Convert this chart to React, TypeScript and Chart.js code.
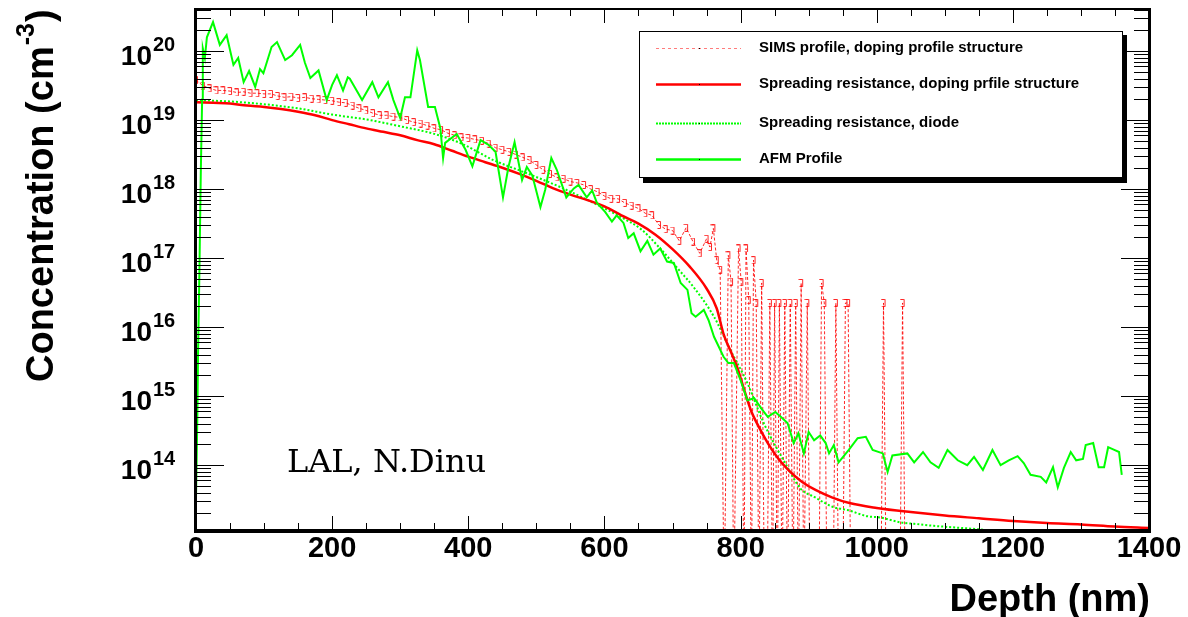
import React, { useEffect, useRef } from "react";
import { Chart, registerables } from "chart.js";
Chart.register(...registerables);

// ---------- axes ----------
const X_MIN = 0;
const X_MAX = 1400;
const Y_MIN_EXP = 13.06; // log10 of axis minimum (cm^-3)
const Y_MAX_EXP = 20.61; // log10 of axis maximum (cm^-3)
const X_TICK_STEP = 200;
const Y_DECADES = [14, 15, 16, 17, 18, 19, 20];

const X_TITLE = "Depth (nm)";
const Y_TITLE = "Concentration (cm";
const Y_TITLE_SUP = "-3";
const Y_TITLE_END = ")";
const NOTE = "LAL, N.Dinu";

const LEGEND_LABELS = [
  "SIMS profile, doping profile structure",
  "Spreading resistance, doping prfile structure",
  "Spreading resistance, diode",
  "AFM Profile",
];

// ---------- data (depth in nm, concentration as log10 cm^-3; 0 = no signal) ----------
const simsDepth = [
  0, 10, 20, 30, 40, 50, 60, 70, 80, 90, 100, 110, 120, 130, 140, 150, 160, 170, 180, 190,
  200, 210, 220, 230, 240, 250, 260, 270, 280, 290, 300, 310, 320, 330, 340, 350, 360, 370, 380, 390,
  400, 410, 420, 430, 440, 450, 460, 470, 480, 490, 500, 510, 520, 530, 540, 550, 560, 570, 580, 590,
  600, 610, 620, 630, 640, 650, 660, 670, 680, 690, 700, 710, 720, 730, 740, 750, 755, 760, 765, 770,
  776, 782, 786, 790, 797, 801, 805, 808, 812, 816, 819, 823, 827, 831, 835, 839, 843, 847, 850, 854,
  857, 861, 865, 869, 873, 877, 881, 885, 889, 893, 898, 902, 915, 919, 923, 927, 936, 940, 944, 950,
  954, 958, 962, 1006, 1010, 1014, 1034, 1038, 1042,
];
const simsLog = [
  19.58, 19.5, 19.46, 19.43, 19.43, 19.42, 19.4, 19.41, 19.39, 19.39, 19.38, 19.38, 19.35, 19.33, 19.34, 19.32, 19.33, 19.31, 19.3, 19.29,
  19.28, 19.26, 19.25, 19.21, 19.17, 19.14, 19.1, 19.07, 19.07, 19.05, 19.04, 19.0, 18.97, 18.95, 18.92, 18.88, 18.86, 18.81, 18.78, 18.75,
  18.74, 18.72, 18.7, 18.66, 18.6, 18.57, 18.54, 18.5, 18.46, 18.42, 18.35, 18.28, 18.22, 18.17, 18.15, 18.11, 18.09, 18.06, 18.0, 17.96,
  17.9, 17.86, 17.86, 17.8, 17.76, 17.72, 17.65, 17.62, 17.48, 17.42, 17.4, 17.25, 17.44, 17.24, 17.07, 17.28, 17.16, 17.43, 16.97, 16.83,
  0, 17.04, 16.66, 0, 17.14, 16.65, 0, 17.14, 16.39, 0, 16.97, 16.35, 0, 16.64, 0, 0, 16.35, 0, 16.35, 0,
  16.35, 0, 16.35, 0, 16.35, 0, 16.35, 0, 16.64, 0, 16.35, 0, 0, 16.64, 16.35, 0, 0, 16.35, 0, 0,
  16.35, 16.35, 0, 0, 16.35, 0, 0, 16.35, 0,
];

const srDepth = [
  0, 25, 50, 75, 100, 125, 150, 175, 200, 225, 250, 275, 300, 325, 350, 375, 400, 425, 450, 475,
  500, 525, 550, 575, 600, 625, 650, 675, 700, 725, 750, 765, 775, 785, 795, 805, 815, 827, 840, 855,
  870, 890, 910, 935, 960, 1000, 1050, 1100, 1150, 1200, 1250, 1300, 1350, 1400,
];
const srLog = [
  19.26, 19.25, 19.24, 19.21, 19.19, 19.16, 19.12, 19.07, 19.0, 18.94, 18.88, 18.83, 18.78, 18.71, 18.65, 18.56, 18.47, 18.39, 18.31, 18.22,
  18.12, 18.01, 17.92, 17.84, 17.75, 17.62, 17.5, 17.34, 17.13, 16.88, 16.56, 16.27, 15.9, 15.66, 15.42, 15.1, 14.8, 14.55, 14.32, 14.1,
  13.93, 13.76, 13.64, 13.53, 13.45, 13.38, 13.32, 13.27, 13.23, 13.19, 13.16, 13.14, 13.11, 13.09,
];

const diodeDepth = [
  0, 50, 100, 150, 200, 250, 300, 350, 390, 437, 486, 535, 584, 625, 655, 680, 712, 731, 761, 785,
  810, 834, 869, 888, 908, 937, 957, 986, 1006, 1035, 1055, 1084, 1124, 1150, 1175,
];
const diodeLog = [
  19.29, 19.27, 19.23, 19.17, 19.08, 19.01, 18.91, 18.8, 18.66, 18.42, 18.23, 18.03, 17.8, 17.59, 17.41, 17.16, 16.8, 16.58, 16.15, 15.67,
  15.19, 14.61, 13.97, 13.66, 13.54, 13.39, 13.35, 13.26, 13.24, 13.17, 13.15, 13.12, 13.09, 13.07, 13.04,
];

const afmDepth = [
  0, 2, 3, 5, 7, 9, 10, 13, 16, 25, 35, 45, 55, 62, 70, 78, 87, 94, 99, 111,
  119, 131, 141, 153, 160, 168, 180, 192, 200, 207, 216, 223, 226, 244, 259, 268, 282, 290, 300, 307,
  315, 325, 329, 341, 351, 359, 363, 366, 383, 396, 406, 418, 430, 440, 451, 459, 468, 479, 486, 494,
  506, 513, 522, 530, 544, 555, 562, 574, 582, 589, 601, 611, 618, 628, 635, 643, 653, 663, 672, 682,
  692, 702, 712, 722, 728, 734, 746, 753, 761, 775, 782, 790, 800, 810, 820, 832, 840, 851, 859, 869,
  878, 885, 893, 900, 908, 917, 925, 930, 937, 944, 959, 972, 984, 994, 1009, 1016, 1023, 1045, 1055, 1068,
  1079, 1091, 1104, 1119, 1133, 1143, 1156, 1170, 1182, 1194, 1207, 1216, 1226, 1241, 1249, 1259, 1266, 1275, 1285, 1293,
  1303, 1307, 1318, 1326, 1334, 1340, 1349, 1356, 1360,
];
const afmLog = [
  13.5, 14.7, 15.6, 16.8, 18.2, 19.3, 20.04, 19.9, 20.2, 20.42, 20.09, 20.23, 19.8, 19.9, 19.55, 19.71, 19.48, 19.74, 19.68, 20.06,
  20.13, 19.87, 19.94, 20.09, 19.83, 19.61, 19.72, 19.29, 19.51, 19.65, 19.43, 19.62, 19.6, 19.29, 19.55, 19.33, 19.55, 19.29, 19.03, 19.33,
  19.33, 20.01, 19.87, 19.19, 19.19, 18.88, 18.45, 18.67, 18.8, 18.57, 18.33, 18.71, 18.64, 18.54, 17.88, 18.32, 18.68, 18.13, 18.32, 18.2,
  17.74, 17.99, 18.45, 18.28, 17.88, 18.01, 18.06, 17.88, 17.98, 17.8, 17.67, 17.53, 17.62, 17.51, 17.29, 17.36, 17.1, 17.25, 17.05, 17.14,
  16.95, 16.93, 16.64, 16.54, 16.2, 16.15, 16.25, 16.1, 15.86, 15.57, 15.48, 15.48, 15.23, 14.94, 14.97, 14.8, 14.7, 14.77, 14.7, 14.61,
  14.32, 14.46, 14.17, 14.48, 14.36, 14.43, 14.32, 14.17, 14.29, 14.04, 14.22, 14.39, 14.41, 14.22, 14.17, 13.9, 14.14, 14.17, 14.04, 14.19,
  14.04, 13.96, 14.22, 14.07, 14.0, 14.12, 13.93, 14.22, 14.0, 14.07, 14.13, 14.03, 13.86, 13.83, 13.75, 13.97, 13.68, 13.96, 14.19, 14.07,
  14.09, 14.29, 14.32, 13.97, 13.97, 14.26, 14.22, 14.19, 13.86,
];

const SANS = '"Liberation Sans", Arial, Helvetica, sans-serif';
const RED = "#ff0000";
const GREEN = "#00ff00";
const SIMS_COLOR = "rgba(255,0,0,0.85)";

function toPoints(depth: number[], logs: number[], floor: number) {
  return depth.map((d, i) => ({ x: d, y: logs[i] > 0 ? Math.pow(10, logs[i]) : floor }));
}

function makeBracket(color: string) {
  const c = document.createElement("canvas");
  c.width = 6;
  c.height = 8;
  const g = c.getContext("2d")!;
  g.strokeStyle = color;
  g.lineWidth = 1;
  g.beginPath();
  g.moveTo(0.5, 0.5);
  g.lineTo(4.5, 0.5);
  g.lineTo(4.5, 7.5);
  g.lineTo(1.5, 7.5);
  g.stroke();
  return c;
}

const decorPlugin = {
  id: "decor",
  afterDraw(chart: any) {
    const { ctx, chartArea } = chart;
    const { left, right, top, bottom } = chartArea;
    const xs = chart.scales.x;
    const ys = chart.scales.y;
    ctx.save();

    // ticks
    ctx.strokeStyle = "#000";
    ctx.lineWidth = 1;
    ctx.beginPath();
    for (let v = X_MIN; v <= X_MAX; v += 50) {
      const px = Math.round(xs.getPixelForValue(v)) + 0.5;
      const len = v % X_TICK_STEP === 0 ? 14 : 7;
      ctx.moveTo(px, bottom);
      ctx.lineTo(px, bottom - len);
      ctx.moveTo(px, top);
      ctx.lineTo(px, top + len);
    }
    for (let e = Math.floor(Y_MIN_EXP); e <= Math.ceil(Y_MAX_EXP); e++) {
      for (let k = 1; k <= 9; k++) {
        const val = k * Math.pow(10, e);
        const lg = Math.log10(val);
        if (lg < Y_MIN_EXP || lg > Y_MAX_EXP) continue;
        const py = Math.round(ys.getPixelForValue(val)) + 0.5;
        const len = k === 1 ? 28 : 15;
        ctx.moveTo(left, py);
        ctx.lineTo(left + len, py);
        ctx.moveTo(right, py);
        ctx.lineTo(right - len, py);
      }
    }
    ctx.stroke();

    // frame
    ctx.fillStyle = "#000";
    ctx.fillRect(left - 2, top - 1, 3, bottom - top + 4); // left
    ctx.fillRect(right - 1, top - 1, 3, bottom - top + 4); // right
    ctx.fillRect(left - 2, top - 1, right - left + 4, 2); // top
    ctx.fillRect(left - 2, bottom - 1, right - left + 4, 4); // bottom

    // y tick labels (10^n)
    ctx.fillStyle = "#000";
    ctx.textBaseline = "alphabetic";
    for (const n of Y_DECADES) {
      const py = ys.getPixelForValue(Math.pow(10, n));
      ctx.font = `bold 28px ${SANS}`;
      ctx.textAlign = "right";
      ctx.fillText("10", 152, py + 14);
      ctx.font = `bold 20px ${SANS}`;
      ctx.textAlign = "left";
      ctx.fillText(String(n), 153, py);
    }

    // y title (rotated)
    ctx.save();
    ctx.translate(53, 382);
    ctx.rotate(-Math.PI / 2);
    ctx.textAlign = "left";
    ctx.font = `bold 38px ${SANS}`;
    ctx.fillText(Y_TITLE, 0, 0);
    let w = ctx.measureText(Y_TITLE).width;
    ctx.font = `bold 25px ${SANS}`;
    ctx.fillText(Y_TITLE_SUP, w + 1, -19);
    w += ctx.measureText(Y_TITLE_SUP).width + 2;
    ctx.font = `bold 38px ${SANS}`;
    ctx.fillText(Y_TITLE_END, w, 0);
    ctx.restore();

    // x title
    ctx.font = `bold 38px ${SANS}`;
    ctx.textAlign = "right";
    ctx.fillText(X_TITLE, right + 1, 611);

    // note
    ctx.font = `32px "DejaVu Serif", serif`;
    ctx.textAlign = "left";
    ctx.fillText(NOTE, 287, 472);

    // legend
    const bx = 639, by = 31, bw = 484, bh = 147;
    ctx.fillStyle = "#000";
    ctx.fillRect(bx + 4, by + 4, bw, bh + 1);
    ctx.fillStyle = "#fff";
    ctx.fillRect(bx, by, bw, bh);
    ctx.strokeStyle = "#000";
    ctx.lineWidth = 1;
    ctx.strokeRect(bx + 0.5, by + 0.5, bw - 1, bh - 1);
    const rows = [48, 84, 123, 159];
    const styles = [
      { c: "rgba(255,110,110,0.9)", w: 1, d: [3, 3] },
      { c: RED, w: 2.5, d: [] },
      { c: GREEN, w: 2, d: [2, 1] },
      { c: GREEN, w: 2.5, d: [] },
    ];
    LEGEND_LABELS.forEach((lab, i) => {
      const y = rows[i];
      const s = styles[i];
      ctx.strokeStyle = s.c;
      ctx.lineWidth = s.w;
      ctx.setLineDash(s.d);
      ctx.beginPath();
      ctx.moveTo(656, y + 0.5);
      ctx.lineTo(741, y + 0.5);
      ctx.stroke();
      ctx.setLineDash([]);
      ctx.fillStyle = "#000";
      ctx.fillRect(699, y, 1, 1);
      ctx.font = `bold 15px ${SANS}`;
      ctx.textAlign = "left";
      ctx.textBaseline = "middle";
      ctx.fillText(lab, 759, y);
    });
    ctx.restore();
  },
};

export default function App() {
  const ref = useRef<HTMLCanvasElement | null>(null);

  useEffect(() => {
    if (!ref.current) return;
    const floor = Math.pow(10, Y_MIN_EXP - 1);
    const bracket = makeBracket(SIMS_COLOR);
    const chart = new Chart(ref.current, {
      type: "line",
      data: {
        datasets: [
          {
            label: LEGEND_LABELS[0],
            data: toPoints(simsDepth, simsLog, floor),
            borderColor: SIMS_COLOR,
            borderWidth: 1,
            borderDash: [3, 2],
            pointStyle: bracket as any,
            pointRadius: 3,
            order: 4,
          },
          {
            label: LEGEND_LABELS[1],
            data: toPoints(srDepth, srLog, floor),
            borderColor: RED,
            borderWidth: 2.5,
            pointRadius: 0,
            cubicInterpolationMode: "monotone",
            order: 2,
          },
          {
            label: LEGEND_LABELS[2],
            data: toPoints(diodeDepth, diodeLog, floor),
            borderColor: GREEN,
            borderWidth: 2,
            borderDash: [2, 2],
            pointRadius: 0,
            cubicInterpolationMode: "monotone",
            order: 3,
          },
          {
            label: LEGEND_LABELS[3],
            data: toPoints(afmDepth, afmLog, floor),
            borderColor: GREEN,
            borderWidth: 2,
            pointRadius: 0,
            order: 1,
          },
        ],
      },
      options: {
        animation: false,
        responsive: true,
        maintainAspectRatio: false,
        layout: { padding: { top: 9, right: 39, left: 0, bottom: 0 } },
        plugins: { legend: { display: false }, tooltip: { enabled: false } },
        scales: {
          x: {
            type: "linear",
            min: X_MIN,
            max: X_MAX,
            grid: { display: false, drawTicks: false },
            border: { display: false },
            ticks: {
              stepSize: X_TICK_STEP,
              autoSkip: false,
              maxRotation: 0,
              padding: 2,
              color: "#000",
              font: { family: SANS, size: 29, weight: "bold" },
              callback: (v: any) => String(v),
            },
            afterFit: (s: any) => {
              s.height = 87;
            },
          },
          y: {
            type: "logarithmic",
            min: Math.pow(10, Y_MIN_EXP),
            max: Math.pow(10, Y_MAX_EXP),
            grid: { display: false, drawTicks: false },
            border: { display: false },
            ticks: { display: false },
            afterFit: (s: any) => {
              s.width = 196;
            },
          },
        },
      } as any,
      plugins: [decorPlugin],
    });
    return () => chart.destroy();
  }, []);

  return (
    <div style={{ position: "fixed", left: 0, top: 0, width: 1188, height: 617, background: "#fff" }}>
      <canvas ref={ref} />
    </div>
  );
}
